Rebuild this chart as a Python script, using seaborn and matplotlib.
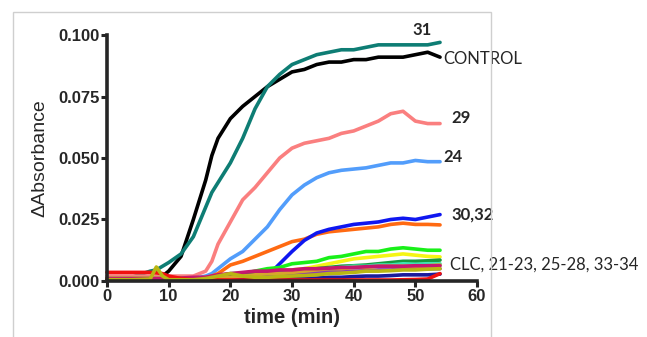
# Kinetics of absorbance change - control vs compounds
import pandas as pd
import matplotlib.pyplot as plt
import seaborn as sns
from matplotlib.patches import Rectangle

# ------------------------------------------
# Data
# ------------------------------------------

time = [0, 4, 7, 8, 9, 10, 12, 14, 16, 17, 18, 20, 22, 24, 26, 28,
        30, 32, 34, 36, 38, 40, 42, 44, 46, 48, 50, 52, 54]

control = [0.001, 0.001, 0.001, 0.0012, 0.002, 0.004, 0.010, 0.025, 0.041, 0.051, 0.058,
           0.066, 0.071, 0.075, 0.079, 0.082, 0.085, 0.086, 0.088, 0.089, 0.089, 0.090,
           0.090, 0.091, 0.091, 0.091, 0.092, 0.093, 0.091]
c31 = [0.001, 0.0015, 0.004, 0.0045, 0.006, 0.0075, 0.011, 0.018, 0.030, 0.036, 0.040,
       0.048, 0.058, 0.070, 0.079, 0.084, 0.088, 0.090, 0.092, 0.093, 0.094, 0.094,
       0.095, 0.096, 0.096, 0.096, 0.096, 0.096, 0.097]
c29 = [0.002, 0.002, 0.002, 0.002, 0.002, 0.002, 0.002, 0.002, 0.004, 0.008, 0.015,
       0.024, 0.033, 0.038, 0.044, 0.050, 0.054, 0.056, 0.057, 0.058, 0.060, 0.061,
       0.063, 0.065, 0.068, 0.069, 0.065, 0.064, 0.064]
c24 = [0.001, 0.001, 0.001, 0.001, 0.001, 0.001, 0.001, 0.001, 0.002, 0.003, 0.005,
       0.009, 0.012, 0.017, 0.022, 0.029, 0.035, 0.039, 0.042, 0.044, 0.045, 0.0455,
       0.046, 0.047, 0.048, 0.048, 0.049, 0.0485, 0.0485]
c30 = [0.0005, 0.0005, 0.0005, 0.0005, 0.0005, 0.0005, 0.0005, 0.0005, 0.0005, 0.0005, 0.0005,
       0.0005, 0.0008, 0.001, 0.002, 0.007, 0.012, 0.0165, 0.0195, 0.021, 0.022, 0.023,
       0.0235, 0.024, 0.025, 0.0255, 0.025, 0.026, 0.027]
c32 = [0.001, 0.001, 0.001, 0.001, 0.001, 0.001, 0.001, 0.001, 0.0015, 0.002, 0.003,
       0.0065, 0.008, 0.010, 0.012, 0.014, 0.016, 0.017, 0.019, 0.020, 0.0205, 0.021,
       0.0215, 0.022, 0.023, 0.0235, 0.023, 0.023, 0.0228]
c21 = [0.001, 0.001, 0.001, 0.001, 0.001, 0.001, 0.001, 0.001, 0.001, 0.0015, 0.002,
       0.003, 0.003, 0.004, 0.005, 0.0055, 0.007, 0.0075, 0.008, 0.0095, 0.010, 0.011,
       0.012, 0.012, 0.013, 0.0135, 0.013, 0.0125, 0.0125]
c22 = [0.001, 0.001, 0.001, 0.001, 0.001, 0.001, 0.001, 0.001, 0.001, 0.001, 0.0015,
       0.002, 0.0025, 0.003, 0.0035, 0.004, 0.0045, 0.005, 0.006, 0.007, 0.008, 0.009,
       0.0095, 0.010, 0.0105, 0.011, 0.0105, 0.010, 0.0098]
c23 = [0.0008, 0.0008, 0.0008, 0.0008, 0.0008, 0.0008, 0.0008, 0.0008, 0.001, 0.001, 0.0015,
       0.002, 0.0025, 0.003, 0.0032, 0.0035, 0.004, 0.0045, 0.005, 0.0055, 0.006, 0.0062,
       0.0065, 0.007, 0.0075, 0.008, 0.008, 0.0082, 0.0085]
c25 = [0.0005, 0.0005, 0.0005, 0.0005, 0.0005, 0.0005, 0.0005, 0.0005, 0.0008, 0.001, 0.001,
       0.001, 0.0015, 0.002, 0.0025, 0.003, 0.003, 0.0035, 0.0045, 0.005, 0.0055, 0.006,
       0.006, 0.0065, 0.0065, 0.007, 0.0068, 0.007, 0.007]
c26 = [0.0005, 0.0005, 0.0005, 0.0005, 0.0005, 0.0005, 0.0005, 0.0005, 0.0008, 0.001, 0.001,
       0.0012, 0.0015, 0.002, 0.0025, 0.003, 0.003, 0.0032, 0.0035, 0.0038, 0.004, 0.004,
       0.0042, 0.0045, 0.0045, 0.0048, 0.005, 0.005, 0.005]
c27 = [0.0008, 0.0008, 0.0008, 0.0008, 0.0008, 0.0008, 0.0008, 0.0008, 0.001, 0.001, 0.0012,
       0.0015, 0.002, 0.0025, 0.003, 0.003, 0.0035, 0.004, 0.0045, 0.005, 0.005, 0.0055,
       0.0055, 0.006, 0.006, 0.006, 0.006, 0.0062, 0.0065]
c28 = [0.0003, 0.0003, 0.0003, 0.0003, 0.0003, 0.0003, 0.0003, 0.0003, 0.0003, 0.0003, 0.0003,
       0.0005, 0.0005, 0.0006, 0.0008, 0.001, 0.001, 0.001, 0.0012, 0.0015, 0.0015, 0.0018,
       0.002, 0.002, 0.0022, 0.0025, 0.0025, 0.0025, 0.0028]
c33 = [0.001, 0.001, 0.001, 0.001, 0.001, 0.001, 0.0012, 0.0015, 0.0015, 0.002, 0.0025,
       0.003, 0.0035, 0.004, 0.004, 0.0045, 0.0045, 0.005, 0.005, 0.0052, 0.0055, 0.0055,
       0.0058, 0.006, 0.006, 0.006, 0.0062, 0.0062, 0.0062]
clc = [0.0035, 0.0035, 0.0035, 0.0033, 0.003, 0.002, 0.001, 0.0005, 0.0004, 0.0004, 0.0004,
       0.0004, 0.0004, 0.0004, 0.0004, 0.0004, 0.0004, 0.0004, 0.0004, 0.0004, 0.0004, 0.0004,
       0.0004, 0.0004, 0.0004, 0.0005, 0.0006, 0.0008, 0.003]
c34 = [0.0005, 0.0005, 0.0008, 0.0057, 0.002, 0.0005, 0.0005, 0.0005, 0.001, 0.0015, 0.002,
       0.003, 0.002, 0.0015, 0.0015, 0.0018, 0.002, 0.0022, 0.0025, 0.003, 0.0032, 0.0035,
       0.004, 0.004, 0.0042, 0.0045, 0.0045, 0.0048, 0.005]

series = {
    "CONTROL": control, "31": c31, "29": c29, "24": c24, "32": c32, "30": c30,
    "21": c21, "22": c22, "23": c23, "25": c25, "26": c26, "28": c28,
    "27": c27, "33": c33, "CLC": clc, "34": c34,
}
colors = {
    "CONTROL": "#000000", "31": "#0e7d74", "29": "#fa7f7f", "24": "#529dfb",
    "32": "#ff6a12", "30": "#0f17f0", "21": "#19f019", "22": "#f5f514",
    "23": "#169b3c", "25": "#3ee6b4", "26": "#8a3cb4", "28": "#1b1b9c",
    "27": "#d7a52d", "33": "#c5176e", "CLC": "#f01010", "34": "#b9b612",
}

# long-form table for seaborn
rows = []
for name, vals in series.items():
    for t, v in zip(time, vals):
        rows.append({"time": t, "dA": v, "sample": name})
data = pd.DataFrame(rows)

# ------------------------------------------
# Plot
# ------------------------------------------

sns.set_style("ticks")
plt.rcParams["font.family"] = ["Liberation Sans", "DejaVu Sans"]

fig = plt.figure(figsize=(6.47, 3.37), dpi=100)
ax = fig.add_axes([0.1654, 0.1662, 0.5719, 0.7299])

sns.lineplot(data=data, x="time", y="dA", hue="sample",
             hue_order=list(series.keys()), palette=colors,
             linewidth=2.6, legend=False, ax=ax)
for ln in ax.lines:
    ln.set_clip_on(False)

ax.set_xlim(0, 60)
ax.set_ylim(0, 0.1)
ax.set_xticks([0, 10, 20, 30, 40, 50, 60])
ax.set_yticks([0, 0.025, 0.05, 0.075, 0.1])
ax.set_yticklabels([f"{v:.3f}" for v in ax.get_yticks()])
ax.tick_params(direction="out", length=4, width=2.2, labelsize=12, pad=1.5)
for lab in ax.get_xticklabels() + ax.get_yticklabels():
    lab.set_fontweight("bold")

sns.despine(ax=ax)
for s in ["left", "bottom"]:
    ax.spines[s].set_linewidth(2.6)

ax.set_xlabel("time (min)", fontsize=14.5, fontweight="bold", labelpad=3)
ax.set_ylabel("\u0394Absorbance", fontsize=14, labelpad=7)

# curve labels at the right end
lbl = dict(fontfamily="Lato", fontsize=12, clip_on=False, va="center")
ax.text(51.1, 0.102, "31", fontweight="bold", ha="center", **lbl)
ax.text(54.5, 0.0902, "CONTROL", ha="left", **lbl)
ax.text(55.8, 0.0663, "29", fontweight="bold", ha="left", **lbl)
ax.text(54.5, 0.0504, "24", fontweight="bold", ha="left", **lbl)
ax.text(55.8, 0.0272, "30,32", fontweight="bold", ha="left", **lbl)
ax.text(55.6, 0.0065, "CLC, 21-23, 25-28, 33-34", ha="left", **lbl)

# light grey frame around the plot
fig.add_artist(Rectangle((13 / 647, -0.05), (491 - 13) / 647, 1.0144,
                         transform=fig.transFigure, fill=False,
                         edgecolor="#cfcfcf", linewidth=1))

fig.savefig("out.png", dpi=100)
